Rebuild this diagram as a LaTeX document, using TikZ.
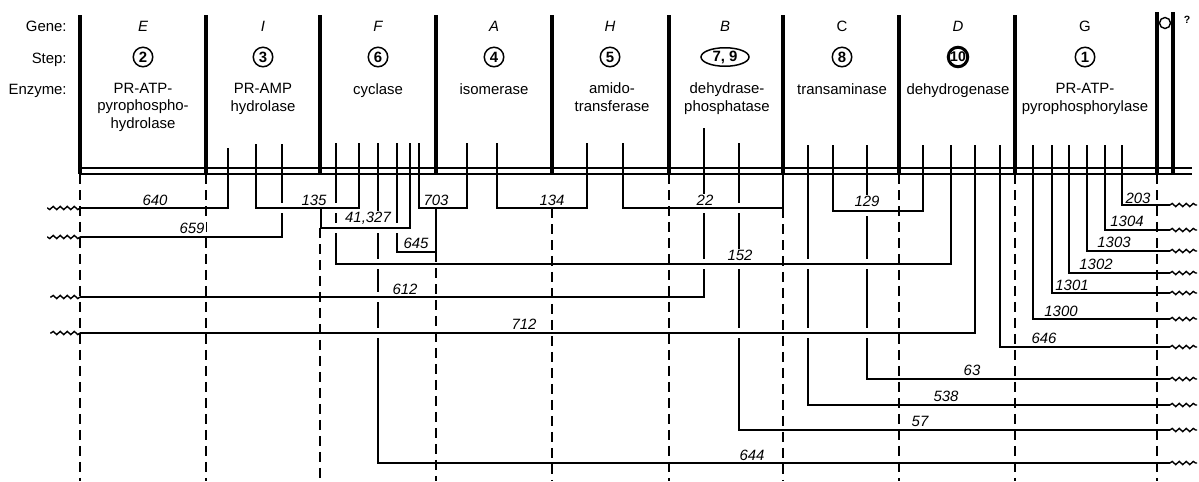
\documentclass[tikz,border=0pt]{standalone}
\usepackage{fontspec}
\setmainfont{Liberation Sans}
\usetikzlibrary{shapes.geometric,decorations.pathmorphing}

\begin{document}
\begin{tikzpicture}[x=0.02cm,y=-0.02cm,
                    every node/.style={inner sep=0pt,font=\fontsize{8.5}{9.7}\selectfont},
                    gene/.style={anchor=base,font=\fontsize{8.5}{9.7}\selectfont\itshape},
                    stepno/.style={circle,draw,line width=0.85pt,minimum size=0.39cm,font=\fontsize{8.5}{9}\selectfont\bfseries},
                    enz/.style={anchor=base,align=center},
                    bnd/.style={line width=1.8pt},
                    site/.style={line width=0.85pt},
                    gp/.style={site,preaction={draw=white,line width=0.2cm}},
                    dsh/.style={line width=0.85pt,dash pattern=on 0.2cm off 0.12cm},
                    wvy/.style={line width=0.8pt,decorate,decoration={snake,amplitude=0.9pt,segment length=4pt}},
                    lbl/.style={font=\fontsize{8.5}{9.7}\selectfont\itshape,fill=white,inner sep=0.6pt}]
  \useasboundingbox (0,0) rectangle (1199,481);

  \node[anchor=base east] (hgene) at (67,31) {Gene:};
  \node[anchor=base east] (hstep) at (67,63) {Step:};
  \node[anchor=base east] (henz)  at (67,94) {Enzyme:};

  \node[gene] (ge) at (143,31)  {E};
  \node[gene] (gi) at (263,31)  {I};
  \node[gene] (gf) at (378,31)  {F};
  \node[gene] (ga) at (494,31)  {A};
  \node[gene] (gh) at (610,31)  {H};
  \node[gene] (gb) at (725,31)  {B};
  \node[gene,font=\fontsize{8.5}{9.7}\selectfont] (gc) at (842,31) {C};
  \node[gene] (gd) at (958,31)  {D};
  \node[gene,font=\fontsize{8.5}{9.7}\selectfont] (gg) at (1085,31) {G};

  \node[stepno] (s2)  at (143,57)  {2};
  \node[stepno] (s3)  at (263,57)  {3};
  \node[stepno] (s6)  at (378,57)  {6};
  \node[stepno] (s4)  at (494,57)  {4};
  \node[stepno] (s5)  at (610,57)  {5};
  \node[ellipse,draw,line width=0.85pt,minimum width=0.96cm,minimum height=0.37cm,
        font=\fontsize{8.5}{9}\selectfont\bfseries] (s79) at (725,57) {7, 9};
  \node[stepno] (s8)  at (842,57)  {8};
  \node[stepno,line width=1.7pt,font=\fontsize{8}{9}\selectfont\bfseries] (s10) at (958,57) {10};
  \node[stepno] (s1)  at (1085,57) {1};

  \node[enz] (ee) at (143,128) {PR-ATP-\\pyrophospho-\\hydrolase};
  \node[enz] (ei) at (263,111) {PR-AMP\\hydrolase};
  \node[enz] (ef) at (378,94)  {cyclase};
  \node[enz] (ea) at (494,94)  {isomerase};
  \node[enz] (eh) at (612,111) {amido-\\transferase};
  \node[enz] (eb) at (727,111) {dehydrase-\\phosphatase};
  \node[enz] (ec) at (842,94)  {transaminase};
  \node[enz] (ed) at (958,94)  {dehydrogenase};
  \node[enz] (eg) at (1085,111) {PR-ATP-\\pyrophosphorylase};

  \coordinate (m640)  at (228,174);
  \coordinate (a135)  at (256,174);
  \coordinate (m659)  at (282,174);
  \coordinate (a152)  at (336,174);
  \coordinate (b135)  at (359,174);
  \coordinate (m644)  at (378,174);
  \coordinate (a645)  at (397,174);
  \coordinate (b41)   at (410,174);
  \coordinate (a703)  at (419,174);
  \coordinate (b703)  at (467,174);
  \coordinate (a134)  at (497,174);
  \coordinate (b134)  at (587,174);
  \coordinate (a22)   at (623,174);
  \coordinate (m612)  at (704,174);
  \coordinate (m57)   at (739,174);
  \coordinate (b22)   at (783,174);
  \coordinate (m538)  at (808,174);
  \coordinate (a129)  at (833,174);
  \coordinate (m63)   at (867,174);
  \coordinate (b129)  at (923,174);
  \coordinate (b152)  at (951,174);
  \coordinate (m712)  at (975,174);
  \coordinate (m646)  at (1000,174);
  \coordinate (m1300) at (1033,174);
  \coordinate (m1301) at (1052,174);
  \coordinate (m1302) at (1069,174);
  \coordinate (m1303) at (1087,174);
  \coordinate (m1304) at (1105,174);
  \coordinate (m203)  at (1122,174);

  \coordinate (l640)  at (80,208);
  \coordinate (l659)  at (80,237);
  \coordinate (l612)  at (80,297);
  \coordinate (l712)  at (80,333);
  \coordinate (c41)   at (321,228);
  \coordinate (c645)  at (436,252);
  \coordinate (r203)  at (1170,205);
  \coordinate (r1304) at (1170,230);
  \coordinate (r1303) at (1170,251);
  \coordinate (r1302) at (1170,273);
  \coordinate (r1301) at (1170,293);
  \coordinate (r1300) at (1170,319);
  \coordinate (r646)  at (1170,347);
  \coordinate (r63)   at (1170,379);
  \coordinate (r538)  at (1170,405);
  \coordinate (r57)   at (1170,430);
  \coordinate (r644)  at (1170,463);

  \draw[gp] (m644) |- (r644);
  \draw[gp] (m57) |- (r57);
  \draw[gp] (m538) |- (r538);
  \draw[gp] (m63) |- (r63);
  \draw[gp] (m646) |- (r646);
  \draw[gp] (m712) |- (l712);
  \draw[gp] (m1300) |- (r1300);
  \draw[gp] (m612) |- (l612);
  \draw[gp] (m1301) |- (r1301);
  \draw[gp] (m1302) |- (r1302);
  \draw[gp] (a152) -- ++(0,90) -| (b152);
  \draw[gp] (a645) |- (c645);
  \draw[gp] (m1303) |- (r1303);
  \draw[gp] (m659) |- (l659);
  \draw[gp] (b41) |- (c41);
  \draw[gp] (m1304) |- (r1304);
  \draw[gp] (a129) -- ++(0,37) -| (b129);
  \draw[gp] (m640) |- (l640);
  \draw[gp] (a135) -- ++(0,34) -| (b135);
  \draw[gp] (a703) -- ++(0,34) -| (b703);
  \draw[gp] (a134) -- ++(0,34) -| (b134);
  \draw[gp] (a22) -- ++(0,34) -| (b22);
  \draw[gp] (m203) |- (r203);
  \draw[site] (c41) -- ++(0,-20);
  \draw[site] (c645) -- ++(0,-44);

  \draw[site] (m640) -- ++(0,-26) (a135) -- ++(0,-30) (m659) -- ++(0,-30)
              (a152) -- ++(0,-31) (b135) -- ++(0,-31) (m644) -- ++(0,-31)
              (a645) -- ++(0,-31) (b41) -- ++(0,-31) (a703) -- ++(0,-31)
              (b703) -- ++(0,-31) (a134) -- ++(0,-31) (b134) -- ++(0,-31)
              (a22) -- ++(0,-31) (m612) -- ++(0,-46) (m57) -- ++(0,-31)
              (m538) -- ++(0,-29) (a129) -- ++(0,-29) (m63) -- ++(0,-29)
              (b129) -- ++(0,-29) (b152) -- ++(0,-29) (m712) -- ++(0,-29)
              (m646) -- ++(0,-29) (m1300) -- ++(0,-29) (m1301) -- ++(0,-29)
              (m1302) -- ++(0,-29) (m1303) -- ++(0,-29) (m1304) -- ++(0,-29)
              (m203) -- ++(0,-29);

  \draw[site] (80,168) -- (1192,168) (80,174) -- (1192,174);
  \draw[bnd] (80,15) -- (80,174) (206,15) -- (206,174) (320,15) -- (320,174)
             (436,15) -- (436,174) (552,15) -- (552,174) (669,15) -- (669,174)
             (783,15) -- (783,174) (899,15) -- (899,174) (1015,15) -- (1015,174)
             (1157,12) -- (1157,174) (1173,12) -- (1173,174);
  \node[circle,draw,line width=0.8pt,minimum size=0.22cm] (op) at (1165,23) {};
  \node[font=\fontsize{6}{7}\selectfont\bfseries] (qm) at (1187,20) {?};

  \draw[dsh] (80,174) -- (80,481) (206,174) -- (206,481) (320,228) -- (320,481)
             (436,252) -- (436,481) (552,208) -- (552,481) (669,174) -- (669,481)
             (783,208) -- (783,481) (899,174) -- (899,481) (1015,174) -- (1015,481)
             (1157,174) -- (1157,481);

  \draw[wvy] (l640) -- ++(-33,0);
  \draw[wvy] (l659) -- ++(-33,0);
  \draw[wvy] (l612) -- ++(-30,0);
  \draw[wvy] (l712) -- ++(-30,0);
  \draw[wvy] (r203) -- ++(27,0);
  \draw[wvy] (r1304) -- ++(27,0);
  \draw[wvy] (r1303) -- ++(27,0);
  \draw[wvy] (r1302) -- ++(27,0);
  \draw[wvy] (r1301) -- ++(27,0);
  \draw[wvy] (r1300) -- ++(27,0);
  \draw[wvy] (r646) -- ++(27,0);
  \draw[wvy] (r63) -- ++(27,0);
  \draw[wvy] (r538) -- ++(27,0);
  \draw[wvy] (r57) -- ++(27,0);
  \draw[wvy] (r644) -- ++(27,0);

  \node[lbl] (n640)  at (155,200)  {640};
  \node[lbl] (n659)  at (192,228)  {659};
  \node[lbl] (n135)  at (314,200)  {135};
  \node[lbl] (n41)   at (368,218)  {41,327};
  \node[lbl] (n645)  at (416,243)  {645};
  \node[lbl] (n703)  at (436,200)  {703};
  \node[lbl] (n134)  at (552,200)  {134};
  \node[lbl] (n22)   at (705,200)  {22};
  \node[lbl] (n129)  at (867,201)  {129};
  \node[lbl] (n152)  at (740,255)  {152};
  \node[lbl] (n612)  at (405,289)  {612};
  \node[lbl] (n712)  at (524,324)  {712};
  \node[lbl] (n203)  at (1138,198) {203};
  \node[lbl] (n1304) at (1127,221) {1304};
  \node[lbl] (n1303) at (1114,242) {1303};
  \node[lbl] (n1302) at (1096,264) {1302};
  \node[lbl] (n1301) at (1072,285) {1301};
  \node[lbl] (n1300) at (1061,311) {1300};
  \node[lbl] (n646)  at (1044,338) {646};
  \node[lbl] (n63)   at (972,370)  {63};
  \node[lbl] (n538)  at (946,396)  {538};
  \node[lbl] (n57)   at (920,421)  {57};
  \node[lbl] (n644)  at (752,455)  {644};
\end{tikzpicture}
\end{document}
